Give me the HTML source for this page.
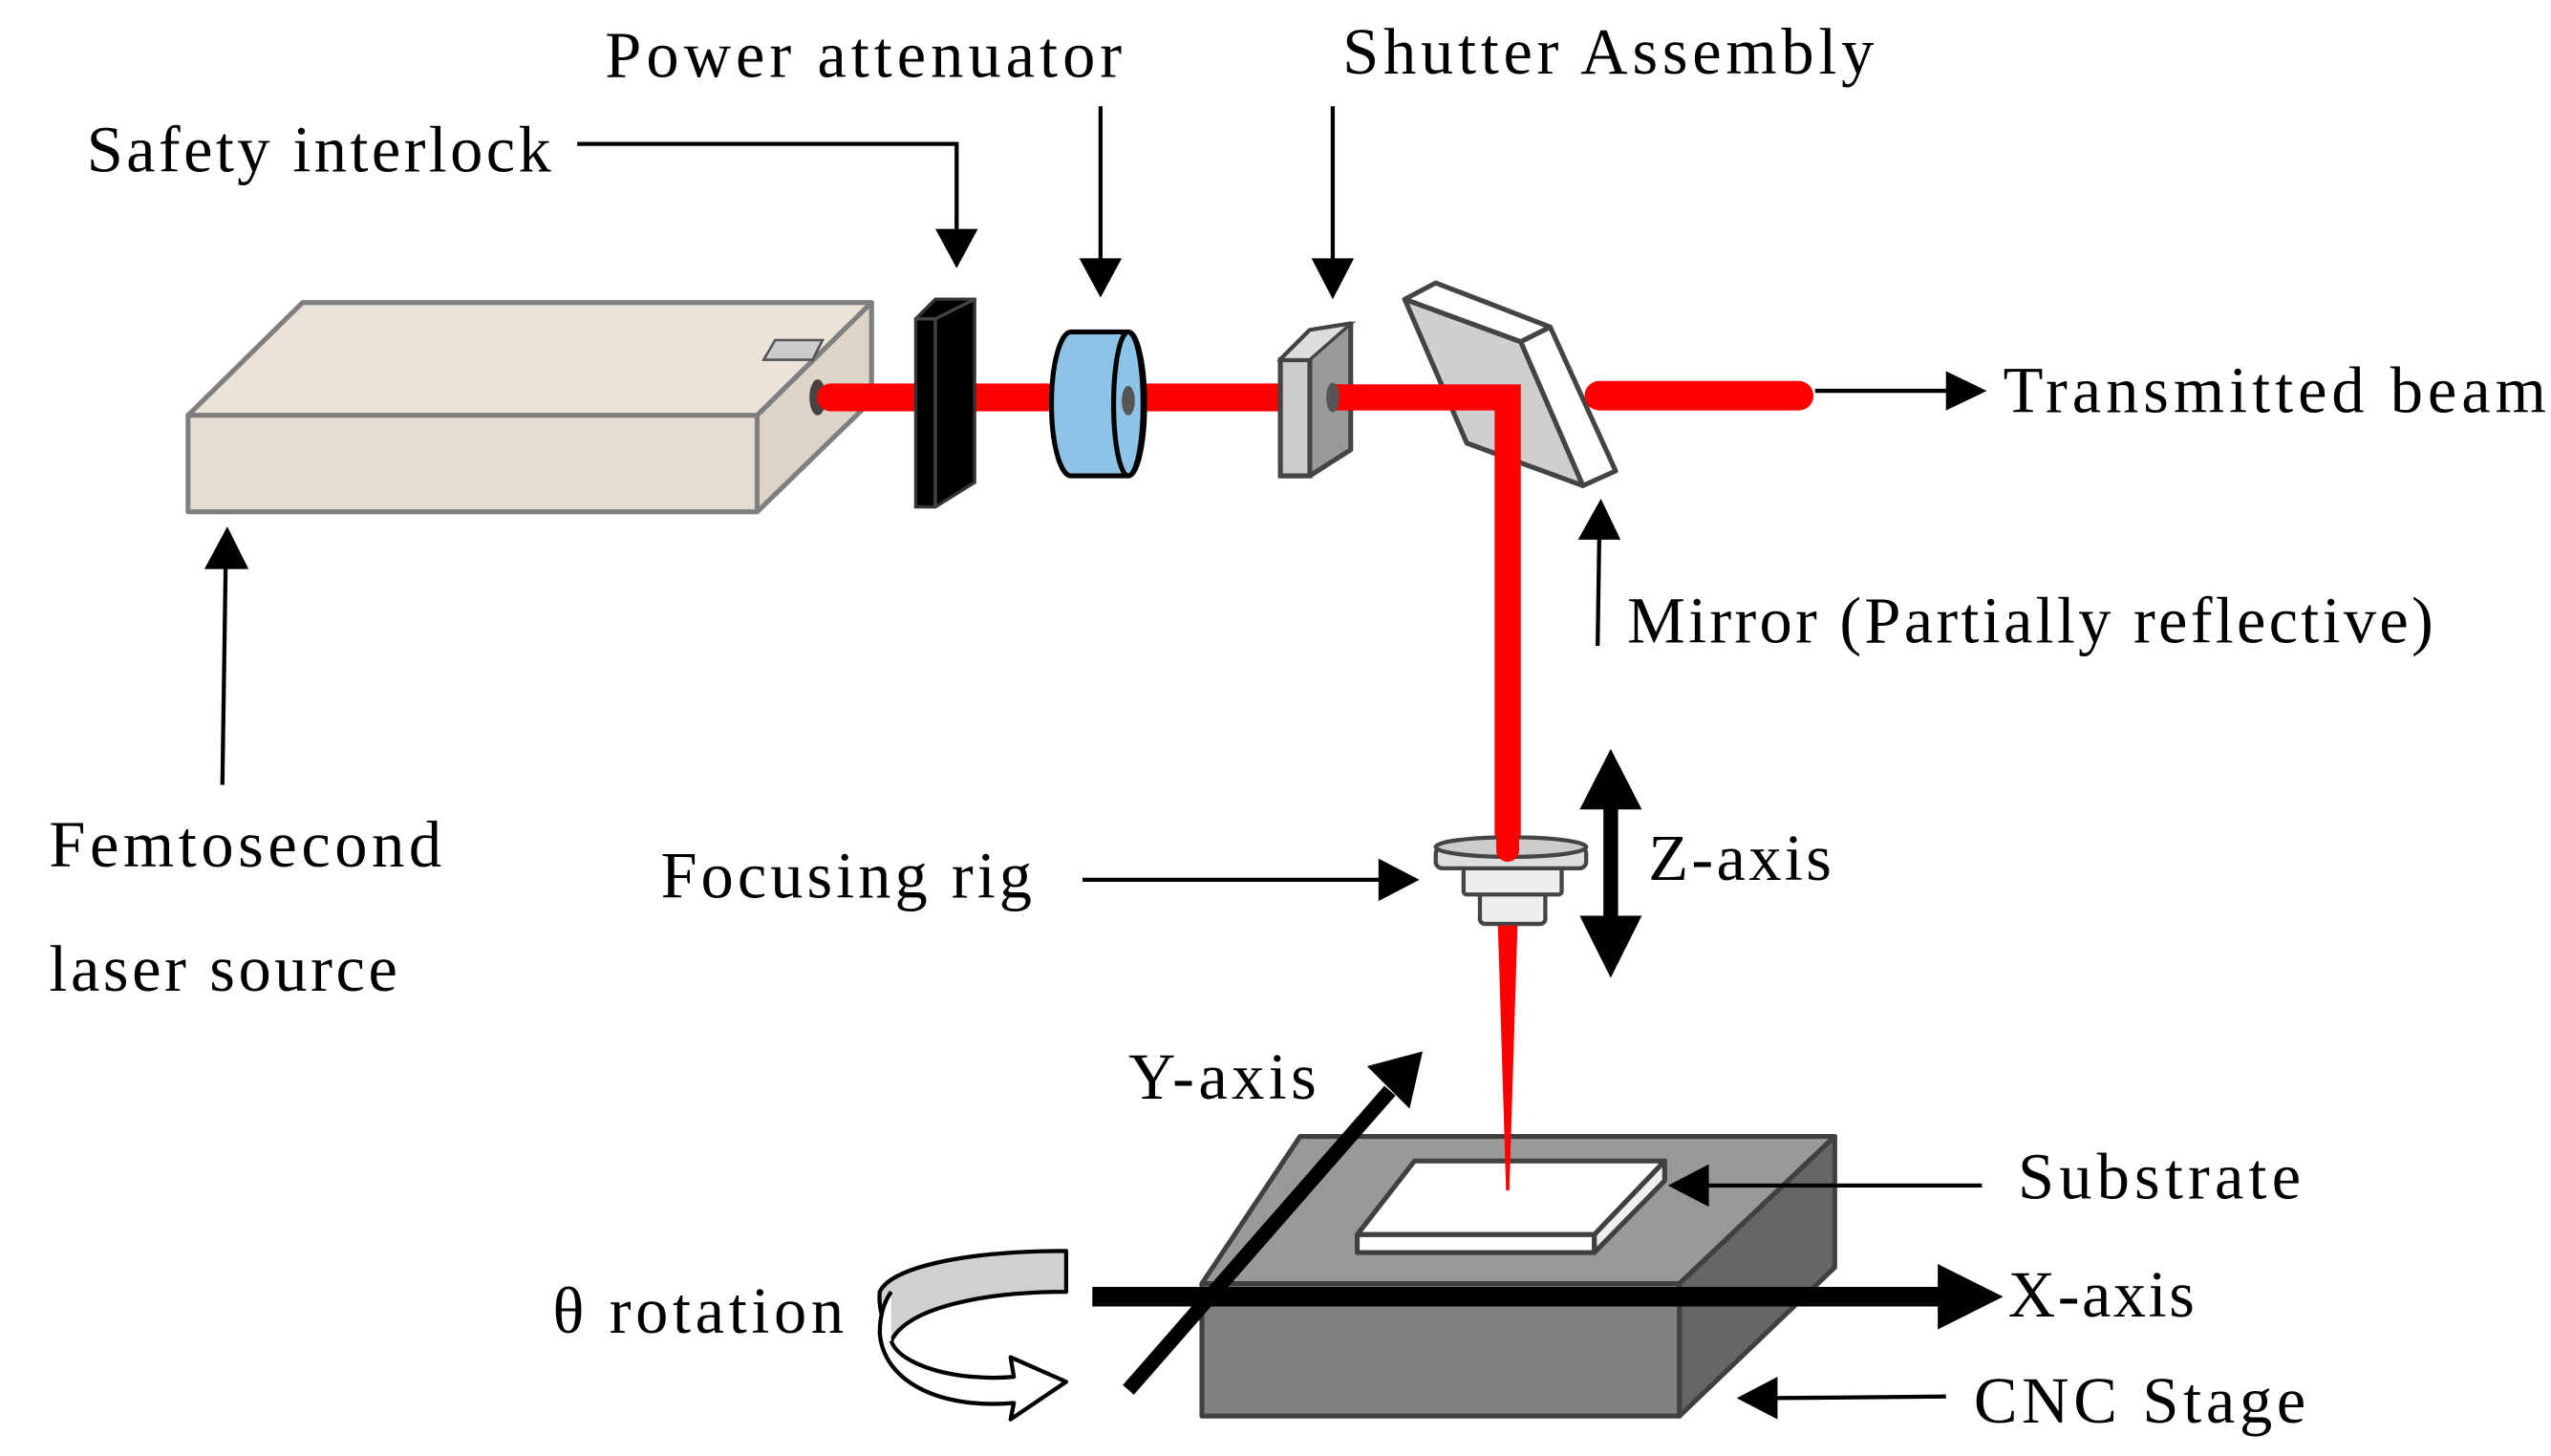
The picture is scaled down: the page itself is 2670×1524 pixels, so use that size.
<!DOCTYPE html>
<html><head><meta charset="utf-8"><style>html,body{margin:0;padding:0;background:#fff}svg{display:block}text{font-family:"Liberation Serif",serif;font-size:40px;fill:#000}</style></head>
<body>
<svg width="2670" height="1524" viewBox="0 0 1560 890.4" preserveAspectRatio="none" xmlns="http://www.w3.org/2000/svg">
<rect width="1560" height="891" fill="#fff"/>
<!-- labels -->
<text x="370" y="47" textLength="316">Power attenuator</text>
<text x="53" y="105" textLength="284">Safety interlock</text>
<text x="821" y="45" textLength="325">Shutter Assembly</text>
<text x="1225" y="252" textLength="332">Transmitted beam</text>
<text x="995" y="393" textLength="493">Mirror (Partially reflective)</text>
<text x="30" y="530" textLength="240">Femtosecond</text>
<text x="30" y="606" textLength="213">laser source</text>
<text x="404" y="549" textLength="227">Focusing rig</text>
<text x="1008" y="538" textLength="112">Z-axis</text>
<text x="690" y="672" textLength="115">Y-axis</text>
<text x="1234" y="733" textLength="173">Substrate</text>
<text x="1228" y="805" textLength="114">X-axis</text>
<text x="338" y="815" textLength="178">θ rotation</text>
<text x="1207" y="870" textLength="203">CNC Stage</text>
<!-- thin arrows -->
<g stroke="#000" stroke-width="2.5" fill="none">
<polyline points="353,88 585,88 585,140"/>
<line x1="673" y1="65" x2="673" y2="160"/>
<line x1="815" y1="65" x2="815" y2="160"/>
<line x1="1110" y1="239" x2="1192" y2="239"/>
<line x1="977" y1="395" x2="978" y2="328"/>
<line x1="136" y1="480" x2="138" y2="345"/>
<line x1="662" y1="538" x2="845" y2="538"/>
<line x1="1190" y1="854" x2="1085" y2="855"/>
</g>
<g fill="#000">
<path d="M572,140 L598,140 L585,164z"/>
<path d="M660,158 L686,158 L673,182z"/>
<path d="M802,158 L828,158 L815,183z"/>
<path d="M1190,227 L1215,239 L1190,251z"/>
<path d="M965,330 L991,330 L979,305z"/>
<path d="M125,348 L152,348 L139,322z"/>
<path d="M843,525 L868,538 L843,551z"/>
<path d="M1087,842 L1062,855 L1087,868z"/>
</g>
<!-- laser box -->
<g stroke="#7f7f7f" stroke-width="3" stroke-linejoin="round">
<path d="M115,254 L185,185 L533,185 L463,254z" fill="#ece3d8"/>
<path d="M463,254 L533,185 L533,245 L463,313z" fill="#ddd4c8"/>
<rect x="115" y="254" width="348" height="59" fill="#e6ddd1"/>
</g>
<path d="M467,220 L474,208 L503,208 L497,220z" fill="#ccc" stroke="#555" stroke-width="1.5"/>
<ellipse cx="500" cy="243" rx="5" ry="11" fill="#444"/>
<!-- beam segments -->
<g stroke="#f00" stroke-width="17" stroke-linecap="round">
<line x1="508" y1="243" x2="558" y2="243"/>
<line x1="590" y1="243" x2="640" y2="243"/>
<line x1="698" y1="243" x2="782" y2="243"/>
</g>
<!-- safety interlock -->
<path d="M560,195 L572,183 L596,183 L596,295 L572,310 L560,310z" fill="#000" stroke="#333" stroke-width="2"/>
<line x1="572" y1="195" x2="572" y2="310" stroke="#444" stroke-width="2"/>
<line x1="560" y1="195" x2="572" y2="195" stroke="#444" stroke-width="2"/>
<line x1="572" y1="195" x2="596" y2="183" stroke="#444" stroke-width="2"/>
<!-- attenuator -->
<path d="M655,203 L690,203 A10,44 0 0 1 690,291 L655,291 A12,44 0 0 1 655,203z" fill="#8dc3e6" stroke="#000" stroke-width="3"/>
<ellipse cx="690" cy="247" rx="9" ry="44" fill="#8dc3e6" stroke="#000" stroke-width="3"/>
<ellipse cx="690" cy="245" rx="4" ry="9" fill="#555"/>
<!-- shutter -->
<path d="M783,220 L801,202 L826,198 L826,275 L801,291 L783,291z" fill="#999" stroke="#444" stroke-width="3" stroke-linejoin="round"/>
<rect x="783" y="220" width="18" height="71" fill="#ccc" stroke="#444" stroke-width="3"/>
<path d="M783,220 L801,202 L826,198 L801,220z" fill="#ddd" stroke="#444" stroke-width="2"/>
<!-- mirror -->
<g stroke="#444" stroke-width="3" stroke-linejoin="round">
<path d="M859,183 L930,209 L968,297 L897,271z" fill="#cfcfcf"/>
<path d="M859,183 L878,173 L948,200 L930,209z" fill="#fff"/>
<path d="M930,209 L948,200 L988,288 L968,297z" fill="#fff"/>
</g>
<!-- beam to mirror and vertical -->
<g stroke="#f00" stroke-linecap="round" fill="none">
<polyline points="817,243 922,243 922,518" stroke-width="16" stroke-linecap="butt"/>
<line x1="978" y1="242" x2="1100" y2="242" stroke-width="18"/>
</g>
<ellipse cx="815" cy="243" rx="4" ry="9" fill="#555"/>
<!-- focusing rig -->
<g stroke="#444" stroke-width="2.5">
<rect x="905" y="545" width="40" height="20" rx="3" fill="#eee"/>
<rect x="895" y="528" width="60" height="19" rx="2" fill="#eee"/>
<rect x="878" y="518" width="92" height="13" rx="4" fill="#ddd"/>
<ellipse cx="924" cy="518" rx="46" ry="6" fill="#ccc"/>
</g>
<line x1="922" y1="470" x2="922" y2="520" stroke="#f00" stroke-width="14" stroke-linecap="round"/>
<!-- z-axis -->
<line x1="985" y1="490" x2="985" y2="565" stroke="#000" stroke-width="9"/>
<path d="M966,495 L985,458 L1004,495z M966,560 L985,598 L1004,560z"/>
<!-- stage -->
<g stroke="#404040" stroke-width="3" stroke-linejoin="round">
<path d="M735,785 L795,695 L1122,695 L1027,785z" fill="#999"/>
<path d="M1027,785 L1122,695 L1122,775 L1027,866z" fill="#666"/>
<rect x="735" y="785" width="292" height="81" fill="#808080"/>
</g>
<!-- substrate -->
<g stroke="#404040" stroke-width="3" stroke-linejoin="round">
<path d="M830,755 L865,710 L1018,710 L975,755z" fill="#fff"/>
<rect x="830" y="755" width="145" height="11" fill="#fff"/>
<path d="M975,755 L1018,710 L1018,722 L975,766z" fill="#eee"/>
</g>
<!-- substrate arrow -->
<line x1="1212" y1="725" x2="1043" y2="725" stroke="#000" stroke-width="2.5"/>
<path d="M1045,712 L1020,725 L1045,738z"/>
<!-- focused beam -->
<path d="M916,566 L928,566 L923,728 L921,728z" fill="#f00"/>
<!-- y-axis -->
<line x1="690" y1="850" x2="850" y2="667" stroke="#000" stroke-width="9"/>
<path d="M836,652 L870,643 L862,678z"/>
<!-- x-axis -->
<line x1="668" y1="793" x2="1190" y2="793" stroke="#000" stroke-width="12"/>
<path d="M1185,773 L1225,793 L1185,813z"/>
<!-- theta rotation -->
<g stroke="#000" stroke-width="2.5" stroke-linejoin="round">
<path d="M652,765 L652,790 C600,790 555,800 545,820 C540,808 537,800 538,790 C545,775 590,765 652,765z" fill="#d0d0d0"/>
<path d="M545,820 C550,835 585,845 620,842 L618,830 L652,845 L618,868 L620,858 C575,862 540,845 538,815 C538,805 540,797 545,790" fill="#fff"/>
</g>
</svg>
</body></html>
